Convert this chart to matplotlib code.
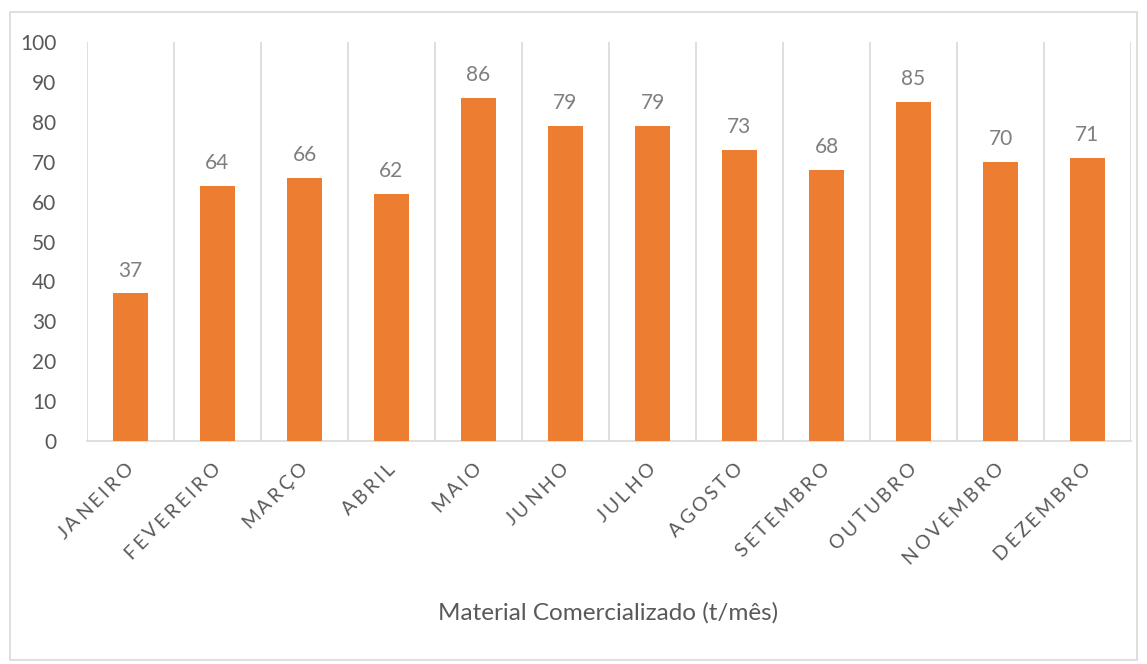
import numpy as np
import matplotlib
matplotlib.use("Agg")
import matplotlib.pyplot as plt
from matplotlib.patches import Rectangle
from matplotlib.font_manager import FontProperties
from matplotlib.textpath import text_to_path
from matplotlib.transforms import ScaledTranslation

months = ["JANEIRO", "FEVEREIRO", "MARÇO", "ABRIL", "MAIO", "JUNHO",
          "JULHO", "AGOSTO", "SETEMBRO", "OUTUBRO", "NOVEMBRO", "DEZEMBRO"]
values = [37, 64, 66, 62, 86, 79, 79, 73, 68, 85, 70, 71]
yticks = [0, 10, 20, 30, 40, 50, 60, 70, 80, 90, 100]
xlabel = "Material Comercializado (t/mês)"

plt.rcParams['font.family'] = ['Lato', 'DejaVu Sans']
text_color = "#595959"
label_color = "#7F7F7F"
grid_color = "#D9D9D9"
bar_color = "#ED7D31"

fig = plt.figure(figsize=(11.47, 6.64), dpi=100)
ax = fig.add_axes([87/1147, 1 - 441/664, (1131-87)/1147, (441-42)/664])

x = list(range(len(months)))
ax.bar(x, values, width=0.4, color=bar_color, zorder=3)
for xi, v in zip(x, values):
    ax.annotate(f"{v}", (xi, v), xytext=(0, 9), textcoords="offset points",
                ha="center", va="bottom", fontsize=15, color=label_color)

ax.set_xlim(-0.5, len(months) - 0.5)
ax.set_ylim(0, 100)
ax.set_yticks(yticks)
ax.set_yticklabels([str(t) for t in yticks], fontsize=15, color=text_color)
ax.set_xticks(x)
ax.set_xticklabels([])
ax.tick_params(axis="both", length=0)
ax.tick_params(axis="y", pad=22)

# category labels: rotated 45 degrees with extra letter spacing
fs = 14
tracking = 2.2  # extra space between letters, points
fp = FontProperties(family=['Lato'], size=fs)
c = np.cos(np.radians(45))
base = ax.get_xaxis_transform()
for xi, name in zip(x, months):
    widths = [text_to_path.get_text_width_height_descent(ch, fp, ismath=False)[0]
              for ch in name]
    total = sum(widths) + tracking * (len(name) - 1)
    pos = 0.0
    for ch, w in zip(name, widths):
        t = total - (pos + w / 2)  # distance back from the end of the label
        dx = (-t * c + 0) / 72
        dy = (-t * c - 18) / 72
        ax.text(xi, 0, ch, transform=base + ScaledTranslation(dx, dy, fig.dpi_scale_trans),
                rotation=45, rotation_mode="anchor", ha="center", va="center",
                fontsize=fs, color=text_color, clip_on=False)
        pos += w + tracking

# vertical separators between categories
for b in [i - 0.5 for i in range(len(months) + 1)]:
    ax.axvline(b, color=grid_color, lw=1.2, zorder=1)

for s in ["top", "right", "left"]:
    ax.spines[s].set_visible(False)
ax.spines["bottom"].set_color(grid_color)
ax.spines["bottom"].set_linewidth(1.2)

fig.text(608/1147, 1 - 613/664, xlabel, ha="center", va="center",
         fontsize=17.5, color=text_color)

fig.patches.append(Rectangle((10/1147, 1 - 660/664), 1127/1147, 648/664,
                             transform=fig.transFigure, fill=False,
                             edgecolor=grid_color, lw=1.2))

fig.savefig("out.png", dpi=100)
